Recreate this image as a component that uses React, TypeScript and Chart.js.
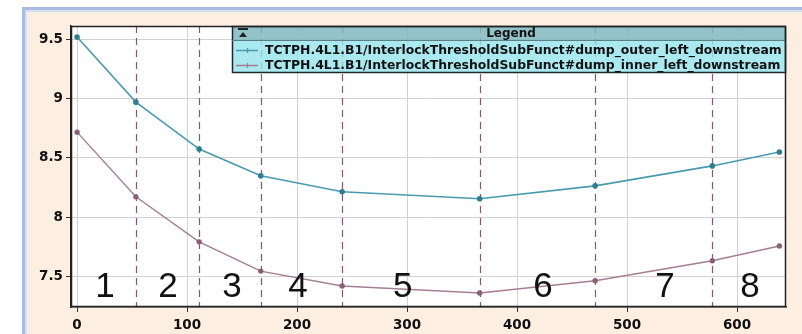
import React, { useEffect, useRef } from "react";
import { Chart, registerables } from "chart.js";

Chart.register(...registerables);

const xPositions = [0, 53.5, 111, 167, 241, 366, 471, 577.5, 638.5];
const outerValues = [9.525, 8.973, 8.576, 8.349, 8.214, 8.155, 8.264, 8.433, 8.551];
const innerValues = [8.719, 8.171, 7.79, 7.542, 7.416, 7.357, 7.46, 7.63, 7.755];
const seriesNames = [
  "TCTPH.4L1.B1/InterlockThresholdSubFunct#dump_outer_left_downstream",
  "TCTPH.4L1.B1/InterlockThresholdSubFunct#dump_inner_left_downstream",
];
const boundaries = [53.5, 111, 167, 241, 366, 471, 577.5];
const zoneLabels = ["1", "2", "3", "4", "5", "6", "7", "8"];
const zoneLabelX = [25.5, 82.7, 140.9, 200.9, 296, 423.6, 534.5, 611.8];
const xTicks = [0, 100, 200, 300, 400, 500, 600];
const yTicks = [7.5, 8, 8.5, 9, 9.5];
const legendTitle = "Legend";

const OUTER_COLOR = "#4a9aae";
const INNER_COLOR = "#a47e94";

const overlayPlugin = {
  id: "overlay",
  beforeDatasetsDraw(chart: any) {
    const { ctx, chartArea, scales } = chart;
    ctx.save();
    ctx.strokeStyle = "#7d5a6c";
    ctx.lineWidth = 1.2;
    ctx.setLineDash([7, 5]);
    boundaries.forEach((b) => {
      const x = Math.round(scales.x.getPixelForValue(b)) + 0.5;
      ctx.beginPath();
      ctx.moveTo(x, chartArea.top);
      ctx.lineTo(x, chartArea.bottom);
      ctx.stroke();
    });
    ctx.restore();
  },
  afterDatasetsDraw(chart: any) {
    const { ctx, chartArea, scales } = chart;
    ctx.save();
    // zone numbers
    ctx.fillStyle = "#111";
    ctx.font = "35px 'Liberation Sans', Arial, sans-serif";
    ctx.textAlign = "center";
    ctx.textBaseline = "alphabetic";
    zoneLabels.forEach((t, i) => {
      ctx.fillText(t, scales.x.getPixelForValue(zoneLabelX[i]), 297);
    });

    // legend box
    const lx = 232;
    const ly = chartArea.top;
    const rx = chartArea.right;
    const hb = ly + 14;
    const by = 73;
    ctx.fillStyle = "rgba(128,184,190,0.85)";
    ctx.fillRect(lx, ly, rx - lx, hb - ly);
    ctx.fillStyle = "rgba(150,228,236,0.82)";
    ctx.fillRect(lx, hb, rx - lx, by - hb);
    ctx.strokeStyle = "#1c2a2c";
    ctx.lineWidth = 1.5;
    ctx.strokeRect(lx + 0.5, ly + 0.5, rx - lx - 1, by - ly - 1);
    ctx.lineWidth = 1;
    ctx.strokeStyle = "#5a7f84";
    ctx.beginPath();
    ctx.moveTo(lx, hb + 0.5);
    ctx.lineTo(rx, hb + 0.5);
    ctx.stroke();

    // icon
    ctx.fillStyle = "#222";
    ctx.fillRect(238, ly + 2, 10, 2);
    ctx.beginPath();
    ctx.moveTo(239, ly + 11);
    ctx.lineTo(243, ly + 6);
    ctx.lineTo(247, ly + 11);
    ctx.closePath();
    ctx.fill();

    ctx.fillStyle = "#111";
    ctx.font = "bold 12px 'DejaVu Sans', sans-serif";
    ctx.textAlign = "center";
    ctx.textBaseline = "middle";
    ctx.fillText(legendTitle, 511, ly + 7.5);

    const colors = [OUTER_COLOR, INNER_COLOR];
    ctx.font = "bold 12.4px 'DejaVu Sans', sans-serif";
    ctx.textAlign = "left";
    seriesNames.forEach((name, i) => {
      const y = hb + 10 + i * 15;
      ctx.strokeStyle = colors[i];
      ctx.lineWidth = 1.3;
      ctx.beginPath();
      ctx.moveTo(236, y + 0.5);
      ctx.lineTo(258, y + 0.5);
      ctx.moveTo(247.5, y - 2);
      ctx.lineTo(247.5, y + 3);
      ctx.stroke();
      ctx.fillStyle = "#111";
      ctx.fillText(name, 265, y + 1);
    });

    ctx.restore();
  },
  afterDraw(chart: any) {
    const { ctx, chartArea } = chart;
    ctx.save();
    ctx.strokeStyle = "#222";
    ctx.lineWidth = 1.5;
    ctx.strokeRect(
      chartArea.left + 0.5,
      chartArea.top + 0.5,
      chartArea.right - chartArea.left - 1,
      chartArea.bottom - chartArea.top - 1
    );
    ctx.restore();
  },
};

const plotBgPlugin = {
  id: "plotBg",
  beforeDraw(chart: any) {
    const { ctx, chartArea } = chart;
    ctx.save();
    ctx.fillStyle = "#ffffff";
    ctx.fillRect(chartArea.left, chartArea.top, chartArea.right - chartArea.left, chartArea.bottom - chartArea.top);
    ctx.restore();
  },
};

export default function App() {
  const ref = useRef<HTMLCanvasElement | null>(null);

  useEffect(() => {
    if (!ref.current) return;
    const chart = new Chart(ref.current, {
      type: "line",
      data: {
        datasets: [
          {
            label: seriesNames[0],
            data: xPositions.map((x, i) => ({ x, y: outerValues[i] })),
            borderColor: OUTER_COLOR,
            backgroundColor: "#2f7f92",
            pointBackgroundColor: "#2f7f92",
            pointBorderColor: "#2f7f92",
            borderWidth: 1.6,
            pointRadius: 2,
            tension: 0,
          },
          {
            label: seriesNames[1],
            data: xPositions.map((x, i) => ({ x, y: innerValues[i] })),
            borderColor: INNER_COLOR,
            backgroundColor: "#8a5f78",
            pointBackgroundColor: "#8a5f78",
            pointBorderColor: "#8a5f78",
            borderWidth: 1.4,
            pointRadius: 2,
            tension: 0,
          },
        ],
      },
      options: {
        animation: false,
        responsive: false,
        maintainAspectRatio: false,
        layout: { padding: { left: 0, right: 16, top: 26, bottom: 0 } },
        plugins: {
          legend: { display: false },
          tooltip: { enabled: false },
        },
        scales: {
          x: {
            type: "linear",
            min: -5.5,
            max: 644.5,
            afterBuildTicks: (s: any) => {
              s.ticks = xTicks.map((v) => ({ value: v }));
            },
            afterFit: (s: any) => {
              s.height = 27;
            },
            grid: {
              color: "#d2d2d2",
              lineWidth: 1,
              tickLength: 5,
              tickColor: "#333",
            },
            border: { color: "#222", width: 1.5 },
            ticks: {
              autoSkip: false,
              maxRotation: 0,
              padding: 5,
              color: "#111",
              font: { family: "'DejaVu Sans', sans-serif", size: 13.5, weight: "bold" },
              callback: (v: any) => String(v),
            },
          },
          y: {
            type: "linear",
            min: 7.238,
            max: 9.618,
            afterBuildTicks: (s: any) => {
              s.ticks = yTicks.map((v) => ({ value: v }));
            },
            afterFit: (s: any) => {
              s.width = 71;
            },
            grid: {
              color: "#d2d2d2",
              lineWidth: 1,
              tickLength: 5,
              tickColor: "#333",
            },
            border: { color: "#222", width: 1.5 },
            ticks: {
              padding: 3,
              color: "#111",
              font: { family: "'DejaVu Sans', sans-serif", size: 13.5, weight: "bold" },
              callback: (v: any) => String(v),
            },
          },
        },
      },
      plugins: [plotBgPlugin, overlayPlugin],
    } as any);
    return () => chart.destroy();
  }, []);

  return (
    <div style={{ position: "fixed", left: 0, top: 0, width: 802, height: 334, background: "#ffffff", overflow: "hidden" }}>
      <div
        style={{
          position: "absolute",
          left: 22,
          top: 7,
          right: -2,
          bottom: -2,
          background: "#fcefe2",
          borderLeft: "3px solid #a9bde0",
          borderTop: "3px solid #a9bde0",
          boxShadow: "inset 2px 2px 0 #d3def2",
        }}
      />
      <canvas ref={ref} width={802} height={334} style={{ position: "absolute", left: 0, top: 0, width: 802, height: 334 }} />
    </div>
  );
}
